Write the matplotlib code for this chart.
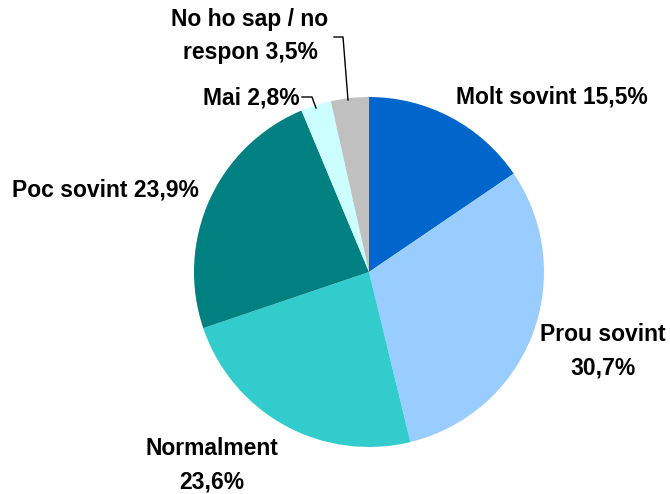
import matplotlib.pyplot as plt

# Survey answers (percent)
labels = ['Molt sovint', 'Prou sovint', 'Normalment', 'Poc sovint', 'Mai', 'No ho sap / no\nrespon']
values = [15.5, 30.7, 23.6, 23.9, 2.8, 3.5]
colors = ['#0066CC', '#99CCFF', '#33CCCC', '#008080', '#CCFFFF', '#C0C0C0']

fig = plt.figure(figsize=(6.7, 4.94), dpi=100)
ax = fig.add_axes([0, 0, 1, 1])

# pie in pixel space (y flipped)
cx, cy, r = 369, 494 - 272, 175
ax.pie(values, colors=colors, startangle=90, counterclock=False,
       center=(cx, cy), radius=r, frame=True,
       wedgeprops=dict(linewidth=0))
ax.set_xlim(0, 670)
ax.set_ylim(0, 494)
ax.set_aspect('equal')
ax.axis('off')

def fmt(v):
    return f'{v:.1f}'.replace('.', ',') + '%'

font = dict(fontsize=16.5, fontweight='bold', family=['Liberation Sans', 'DejaVu Sans'])

ax.text(456, 494 - 97, f'{labels[0]} {fmt(values[0])}', ha='left', va='center', **font)
ax.text(603, 494 - 351, f'{labels[1]}\n{fmt(values[1])}', ha='center', va='center',
        linespacing=1.6, **font)
ax.text(212, 494 - 465, f'{labels[2]}\n{fmt(values[2])}', ha='center', va='center',
        linespacing=1.6, **font)
ax.text(12, 494 - 190, f'{labels[3]} {fmt(values[3])}', ha='left', va='center', **font)
ax.text(300, 494 - 98, f'{labels[4]} {fmt(values[4])}', ha='right', va='center', **font)
ax.text(250, 494 - 36, f'{labels[5]} {fmt(values[5])}', ha='center', va='center',
        linespacing=1.6, **font)

# leader lines
ax.plot([302, 312, 316], [494 - 97, 494 - 97, 494 - 108], color='black', lw=1)
ax.plot([334, 343, 348], [494 - 37, 494 - 37, 494 - 100], color='black', lw=1)

fig.savefig('out.png', dpi=100)
